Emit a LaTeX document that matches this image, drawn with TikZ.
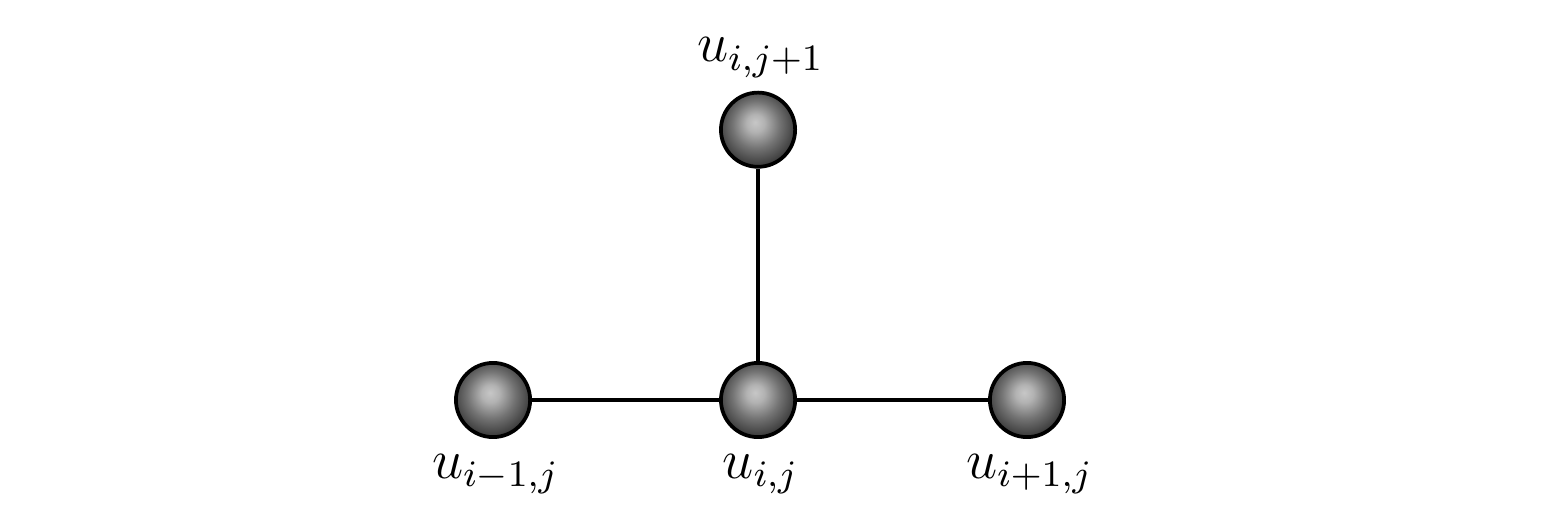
\documentclass[tikz,border=0pt]{standalone}
\usetikzlibrary{shadings}
\pgfdeclareradialshading{myball}{\pgfpoint{-2bp}{5bp}}{%
  color(0bp)=(black!22); color(6bp)=(black!30); color(16bp)=(black!55); color(27bp)=(black!78); color(50bp)=(black!80)}
\begin{document}
\begin{tikzpicture}[
  ballnode/.style={circle, draw=black, line width=0.8pt, shading=myball, minimum size=0.56cm, inner sep=0pt},
  lbl/.style={anchor=base, font=\large},
  conn/.style={line width=0.7pt}
]
\useasboundingbox (-5.721,-0.898) rectangle (6.045,3.019);
\node[ballnode] (c) at (0,0) {};
\node[ballnode] (l) at (-2.0,0) {};
\node[ballnode] (r) at (2.03,0) {};
\node[ballnode] (t) at (0,2.04) {};
\draw[conn] (l) -- (c);
\draw[conn] (c) -- (r);
\draw[conn] (c) -- (t);
\node[lbl] (lc) at (0.02,-0.589) {$u_{i,j}$};
\node[lbl] (ll) at (-1.98,-0.589) {$u_{i-1,j}$};
\node[lbl] (lr) at (2.05,-0.589) {$u_{i+1,j}$};
\node[lbl] (lt) at (0.02,2.551) {$u_{i,j+1}$};
\end{tikzpicture}
\end{document}
